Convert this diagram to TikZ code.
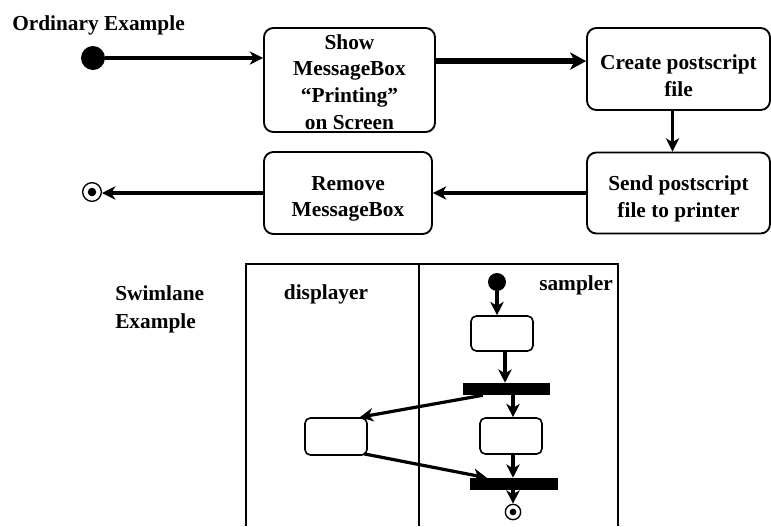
\documentclass[tikz,border=0pt]{standalone}
\usepackage{fontspec}
\setmainfont{Liberation Serif}
\usetikzlibrary{arrows.meta,calc}
\begin{document}
\begin{tikzpicture}[x=0.75pt,y=-0.75pt,
  every node/.style={font=\bfseries\fontsize{16}{20}\selectfont},
  act/.style={draw, line width=1.4pt, rounded corners=7pt, inner sep=0pt},
  sact/.style={draw, line width=1.2pt, rounded corners=4pt, inner sep=0pt, minimum width=46.5pt},
  btext/.style={align=center, inner sep=0pt},
  flow/.style={line width=2.4pt, -{Stealth[length=10pt,width=10pt,inset=3pt]}},
  thickflow/.style={line width=4.2pt, -{Stealth[length=12pt,width=13pt,inset=3.5pt]}},
  startst/.style={circle, fill, inner sep=0pt},
  endst/.style={circle, draw, line width=1pt, inner sep=0pt},
  bar/.style={fill, inner sep=0pt},
  lane/.style={line width=1.3pt}
]
\useasboundingbox (0,0) rectangle (771,526);

% ---- Ordinary example ----
\node[anchor=west, inner sep=0pt] (title1) at (12,25) {Ordinary Example};
\node[startst, minimum size=18pt] (s1) at (93,58) {};

\node[act, minimum width=128.25pt, minimum height=78pt] (b1) at (349.5,80) {};
\node[btext] (t1) at ($(b1.center)+(0,2)$) {Show\\MessageBox\\“Printing”\\on Screen};

\node[act, minimum width=137.25pt, minimum height=61.5pt] (b2) at (678.5,69) {};
\node[btext] (t2) at ($(b2.center)+(0,7)$) {Create postscript\\file};

\node[act, minimum width=137.25pt, minimum height=60.75pt] (b3) at (678.5,193) {};
\node[btext] (t3) at ($(b3.center)+(0,6)$) {Send postscript\\file to printer};

\node[act, minimum width=126pt, minimum height=61.5pt] (b4) at (348,193) {};
\node[btext] (t4) at ($(b4.center)+(0,6)$) {Remove\\MessageBox};

\node[endst, minimum size=14pt,
  path picture={\fill (path picture bounding box.center) circle (3.2pt);}] (e1) at (92,192) {};

\draw[flow] (s1) -- (s1 -| b1.west);
\draw[thickflow] ($(b1.north east)+(0,34)$) coordinate (c1) -- (c1 -| b2.west);
\draw[flow] ($(b2.south)+(-6,0)$) coordinate (c2) -- (c2 |- b3.north);
\draw[flow] (b3.west) -- (b4.east);
\draw[flow] (b4.west) -- (b4.west -| e1.east);

% ---- Swimlane example ----
\node[anchor=west, align=left, inner sep=0pt, font=\bfseries\fontsize{16}{21}\selectfont] (title2) at (115,309) {Swimlane\\Example};

\draw[lane] (246,526) -- (246,264) -- (618,264) -- (618,526);
\draw[lane] (419,264) -- (419,526);

\node (l1) at (326,294) {displayer};
\node (l2) at (576,285) {sampler};

\node[startst, minimum size=13.5pt] (s2) at (497,282) {};
\node[sact, minimum height=26.25pt] (sb1) at (502,333.5) {};
\node[bar, minimum width=65.25pt, minimum height=9pt] (f1) at (506.5,389) {};
\node[sact, minimum height=27pt] (sb2) at (511,436) {};
\node[sact, minimum height=27.75pt] (lb) at (336,436.5) {};
\node[bar, minimum width=66pt, minimum height=9pt] (j1) at (514,484) {};
\node[endst, minimum size=11.5pt,
  path picture={\fill (path picture bounding box.center) circle (2.5pt);}] (e2) at (513,512) {};

\draw[flow] (s2) -- (s2 |- sb1.north);
\draw[flow] ($(sb1.south)+(3,0)$) coordinate (a1) -- (a1 |- f1.north);
\draw[flow] ($(f1.south)+(6.5,0)$) coordinate (a2) -- (a2 |- sb2.north);
\draw[flow] ($(f1.south west)+(20,0)$) -- ($(lb.north east)+(-8,0)$);
\draw[flow] ($(lb.south east)+(-4,-2)$) -- ($(j1.north west)+(17,0)$);
\draw[flow] ($(sb2.south)+(2,0)$) coordinate (a3) -- (a3 |- j1.north);
\draw[flow] (j1.south -| e2) -- (e2.north);
\end{tikzpicture}
\end{document}
